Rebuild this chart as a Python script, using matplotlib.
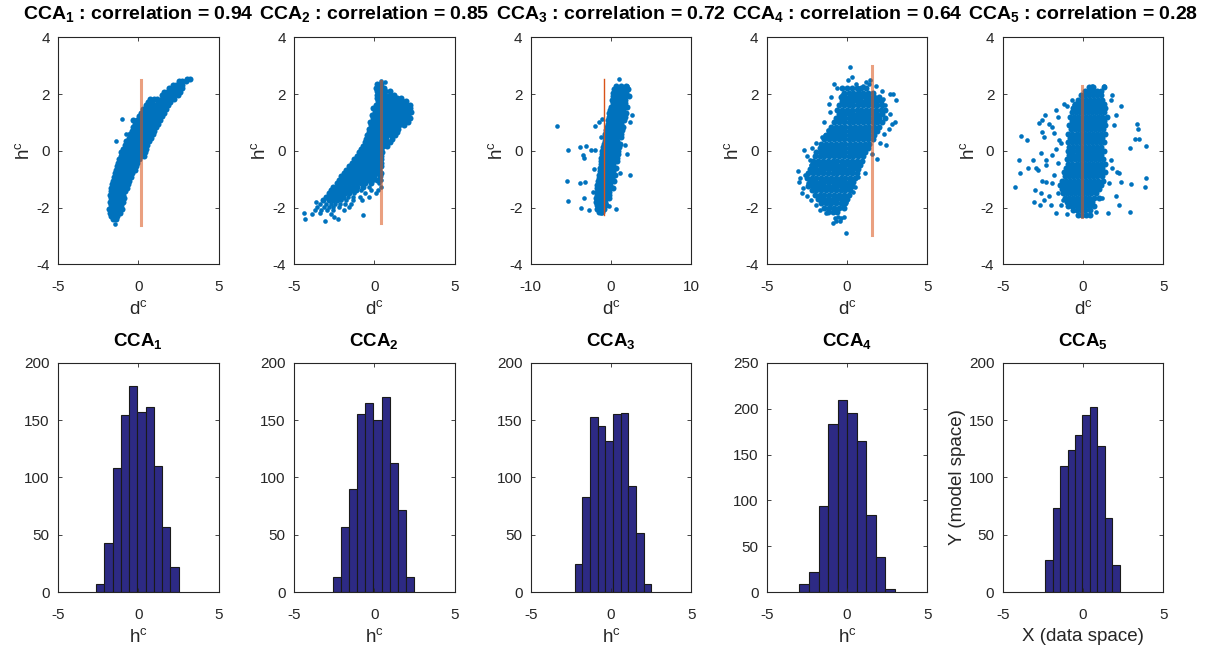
import numpy as np
import matplotlib.pyplot as plt

plt.rcParams['font.family'] = ['Liberation Sans', 'DejaVu Sans']
plt.rcParams['mathtext.default'] = 'regular'
plt.rcParams['axes.unicode_minus'] = False

# ---- data ----
correlations = [0.94, 0.85, 0.72, 0.64, 0.28]
d_ticks = [[-5, 0, 5], [-5, 0, 5], [-10, 0, 10], [-5, 0, 5], [-5, 0, 5]]
line_d = [0.2, 0.445, -0.93, 1.54, -0.07]          # vertical reference line in the scatter panels

# histogram of h^c: (min, max) of the 10 bins and the counts
hist_range = [(-2.63, 2.51), (-2.56, 2.46), (-2.27, 2.52), (-2.96, 2.98), (-2.34, 2.28)]
hist_counts = [
    [7, 43, 108, 154, 180, 157, 161, 110, 57, 22],
    [13, 57, 90, 155, 165, 150, 170, 113, 72, 13],
    [25, 83, 153, 145, 132, 155, 156, 93, 52, 7],
    [9, 22, 94, 183, 209, 195, 165, 84, 38, 4],
    [28, 73, 110, 124, 137, 154, 161, 127, 65, 24],
]
hist_ymax = [200, 200, 200, 250, 200]

# scatter clouds: rows of (h, [d values at that h]) plus loose points (d, h)
cca1_rows = [
    (2.52, [3.05, 3.2]),
    (2.45, [2.55, 2.75, 2.95]),
    (2.33, [2.15, 2.35, 2.55, 2.75]),
    (2.20, [1.9, 2.1, 2.3, 2.5, 2.7]),
    (2.08, [1.6, 1.8, 2.0, 2.2, 2.4, 2.6]),
    (1.95, [1.45, 1.65, 1.85, 2.05, 2.25, 2.45]),
    (1.84, [0.7, 0.95, 1.15, 1.45, 1.65, 1.85, 2.05, 2.25]),
    (1.72, [0.6, 0.85, 1.2, 1.4, 1.6, 1.8, 2.0]),
    (1.60, [0.45, 0.65, 0.85, 1.05, 1.25, 1.45, 1.65, 1.85]),
    (1.47, [0.3, 0.5, 0.7, 0.9, 1.1, 1.3, 1.5, 1.72]),
    (1.34, [0.2, 0.4, 0.6, 0.8, 1.0, 1.2, 1.4, 1.6]),
    (1.21, [0.05, 0.25, 0.45, 0.65, 0.85, 1.05, 1.25, 1.45]),
    (1.09, [-0.3, -0.05, 0.15, 0.35, 0.55, 0.75, 0.95, 1.15, 1.35]),
    (0.96, [-0.2, 0.0, 0.2, 0.4, 0.6, 0.8, 1.0, 1.2]),
    (0.83, [-0.3, -0.1, 0.1, 0.3, 0.5, 0.7, 0.9, 1.1]),
    (0.70, [-0.4, -0.2, 0.0, 0.2, 0.4, 0.6, 0.8, 1.0]),
    (0.58, [-0.5, -0.3, -0.1, 0.1, 0.3, 0.5, 0.7, 0.9]),
    (0.46, [-0.6, -0.4, -0.2, 0.0, 0.2, 0.4, 0.6, 0.8]),
    (0.34, [-0.75, -0.55, -0.35, -0.15, 0.05, 0.25, 0.45, 0.65]),
    (0.21, [-0.85, -0.65, -0.45, -0.25, -0.05, 0.15, 0.35, 0.55]),
    (0.08, [-0.95, -0.75, -0.55, -0.35, -0.15, 0.05, 0.25, 0.48]),
    (-0.05, [-1.05, -0.85, -0.65, -0.45, -0.25, -0.05, 0.15, 0.4]),
    (-0.18, [-1.1, -0.9, -0.7, -0.5, -0.3, -0.1, 0.12, 0.35]),
    (-0.30, [-1.2, -1.0, -0.8, -0.6, -0.4, -0.2, 0.02]),
    (-0.42, [-1.28, -1.08, -0.88, -0.68, -0.48, -0.28, -0.05]),
    (-0.55, [-1.35, -1.15, -0.95, -0.75, -0.55, -0.35, -0.15]),
    (-0.68, [-1.4, -1.2, -1.0, -0.8, -0.6, -0.38, -0.2]),
    (-0.80, [-1.45, -1.25, -1.05, -0.85, -0.65, -0.42]),
    (-0.92, [-1.5, -1.3, -1.1, -0.9, -0.7, -0.48]),
    (-1.05, [-1.58, -1.38, -1.18, -0.98, -0.78, -0.55]),
    (-1.18, [-1.62, -1.42, -1.22, -1.02, -0.82, -0.62]),
    (-1.30, [-1.7, -1.5, -1.3, -1.1, -0.9, -0.72]),
    (-1.42, [-1.68, -1.48, -1.28, -1.08, -0.85]),
    (-1.55, [-1.75, -1.55, -1.35, -1.15, -0.95]),
    (-1.68, [-1.72, -1.52, -1.32, -1.12, -0.9]),
    (-1.80, [-1.78, -1.58, -1.38, -1.18, -0.95]),
    (-1.92, [-1.7, -1.5, -1.3, -1.1]),
    (-2.05, [-1.8, -1.62, -1.42, -1.22, -1.0]),
    (-2.18, [-1.75, -1.55, -1.35, -1.12]),
    (-2.30, [-1.7, -1.5, -1.3]),
    (-2.42, [-1.58, -1.38]),
]
cca1_loose = [(-1.02, 1.12), (-1.36, 0.34), (-0.78, 0.6), (-1.45, -2.58)]

cca2_rows = [
    (2.35, [0.15, 0.4]),
    (2.22, [0.1, 0.35, 0.6]),
    (2.10, [0.15, 0.4, 0.65, 0.95]),
    (1.98, [0.2, 0.45, 0.7, 0.95, 1.2]),
    (1.86, [0.15, 0.4, 0.65, 0.9, 1.15, 1.4, 1.65]),
    (1.74, [0.25, 0.5, 0.75, 1.0, 1.25, 1.5, 1.75, 2.0]),
    (1.62, [0.1, 0.35, 0.55, 0.8, 1.05, 1.3, 1.55, 1.8, 2.05, 2.25]),
    (1.50, [-0.05, 0.2, 0.45, 0.7, 0.95, 1.2, 1.45, 1.7, 1.95, 2.2]),
    (1.38, [0.05, 0.3, 0.55, 0.8, 1.05, 1.3, 1.55, 1.8, 2.05, 2.3]),
    (1.26, [-0.15, 0.1, 0.35, 0.6, 0.85, 1.1, 1.35, 1.6, 1.85, 2.1]),
    (1.14, [-0.1, 0.15, 0.4, 0.65, 0.9, 1.15, 1.4, 1.65, 1.9, 2.25]),
    (1.02, [-0.25, 0.0, 0.25, 0.5, 0.75, 1.0, 1.25, 1.5, 1.8, 2.1]),
    (0.90, [-0.2, 0.05, 0.3, 0.55, 0.8, 1.05, 1.3, 1.55, 1.85]),
    (0.78, [-0.3, -0.05, 0.2, 0.45, 0.7, 0.95, 1.2, 1.5]),
    (0.66, [-0.35, -0.1, 0.15, 0.4, 0.65, 0.9, 1.15, 1.4]),
    (0.54, [-0.45, -0.2, 0.05, 0.3, 0.55, 0.8, 1.05, 1.3]),
    (0.42, [-0.5, -0.25, 0.0, 0.25, 0.5, 0.75, 1.1]),
    (0.30, [-0.6, -0.35, -0.1, 0.15, 0.4, 0.65, 0.95]),
    (0.18, [-0.7, -0.45, -0.2, 0.05, 0.3, 0.55, 0.8]),
    (0.06, [-0.8, -0.55, -0.3, -0.05, 0.2, 0.45]),
    (-0.06, [-0.95, -0.7, -0.45, -0.2, 0.05, 0.3, 0.5]),
    (-0.18, [-1.1, -0.85, -0.6, -0.35, -0.1, 0.15, 0.45]),
    (-0.30, [-1.25, -1.0, -0.75, -0.5, -0.25, 0.0, 0.25, 0.45]),
    (-0.42, [-1.4, -1.15, -0.9, -0.65, -0.4, -0.15, 0.1, 0.4]),
    (-0.54, [-1.55, -1.3, -1.05, -0.8, -0.55, -0.3, -0.05, 0.2, 0.45]),
    (-0.66, [-1.75, -1.5, -1.25, -1.0, -0.75, -0.5, -0.25, 0.0, 0.3]),
    (-0.78, [-1.9, -1.65, -1.4, -1.15, -0.9, -0.65, -0.4, -0.15, 0.15, 0.45]),
    (-0.90, [-2.05, -1.8, -1.55, -1.3, -1.05, -0.8, -0.55, -0.3, 0.0, 0.35]),
    (-1.02, [-2.2, -1.95, -1.7, -1.45, -1.2, -0.95, -0.7, -0.45, -0.15, 0.2]),
    (-1.14, [-2.35, -2.1, -1.85, -1.6, -1.35, -1.1, -0.85, -0.55, -0.2]),
    (-1.26, [-2.55, -2.3, -2.05, -1.8, -1.55, -1.3, -1.05, -0.7]),
    (-1.38, [-2.7, -2.45, -2.2, -1.95, -1.7, -1.45, -1.15]),
    (-1.50, [-2.85, -2.55, -2.3, -2.05, -1.8, -1.55]),
    (-1.62, [-3.0, -2.7, -2.45, -2.2, -1.95]),
    (-1.74, [-3.2, -2.85, -2.6, -2.35]),
]
cca2_loose = [
    (0.45, 2.45), (0.7, 2.42), (0.45, -1.02), (0.3, -1.14), (-0.35, -1.26), (0.4, -1.26),
    (-0.8, -1.38), (-0.2, -1.38), (0.25, -1.38), (-1.25, -1.5), (-0.6, -1.5), (0.1, -1.5),
    (-1.65, -1.62), (-1.3, -1.62), (-0.9, -1.62), (-0.3, -1.62),
    (-2.05, -1.74), (-1.75, -1.74), (-1.35, -1.74), (-0.75, -1.74),
    (-3.4, -1.86), (-3.0, -1.86), (-2.7, -1.86), (-2.45, -1.86), (-2.15, -1.86), (-1.8, -1.86),
    (-1.45, -1.86), (-3.55, -1.98), (-3.15, -1.98), (-2.85, -1.98), (-2.55, -1.98), (-2.2, -1.98),
    (-1.6, -1.98), (-3.7, -2.1), (-3.3, -2.1), (-2.95, -2.1), (-2.55, -2.1), (-1.9, -2.1),
    (-4.35, -2.2), (-3.85, -2.22), (-3.4, -2.2), (-2.7, -2.24), (-0.7, -2.26), (-2.5, -2.32),
    (-4.3, -2.4), (-2.25, -2.4), (-3.05, -2.49), (-3.6, -1.8), (-2.9, -1.6),
]

cca3_rows = [
    (2.28, [0.6, 1.2, 1.9]),
    (2.16, [0.4, 0.8, 1.2, 1.6, 2.1]),
    (2.04, [0.3, 0.7, 1.1, 1.5, 1.9]),
    (1.92, [0.2, 0.6, 1.0, 1.4, 1.8, 2.2]),
    (1.80, [0.1, 0.5, 0.9, 1.3, 1.7]),
    (1.68, [0.2, 0.6, 1.0, 1.4, 1.8]),
    (1.56, [0.0, 0.4, 0.8, 1.2, 1.6, 2.0]),
    (1.44, [-0.1, 0.3, 0.7, 1.1, 1.5]),
    (1.32, [-0.2, 0.2, 0.6, 1.0, 1.4, 1.9]),
    (1.20, [-0.3, 0.1, 0.5, 0.9, 1.3, 1.7]),
    (1.08, [-0.4, 0.0, 0.4, 0.8, 1.2, 1.6]),
    (0.96, [-0.4, 0.0, 0.4, 0.8, 1.2]),
    (0.84, [-0.5, -0.1, 0.3, 0.7, 1.1, 1.5]),
    (0.72, [-0.6, -0.2, 0.2, 0.6, 1.0, 1.4]),
    (0.60, [-0.7, -0.3, 0.1, 0.5, 0.9, 1.3]),
    (0.48, [-0.8, -0.4, 0.0, 0.4, 0.8, 1.2]),
    (0.36, [-0.8, -0.4, 0.0, 0.4, 0.8]),
    (0.24, [-0.9, -0.5, -0.1, 0.3, 0.7, 1.1]),
    (0.12, [-1.0, -0.6, -0.2, 0.2, 0.6, 1.0]),
    (0.00, [-1.1, -0.7, -0.3, 0.1, 0.5, 0.9]),
    (-0.12, [-1.1, -0.7, -0.3, 0.1, 0.5, 0.9]),
    (-0.24, [-1.2, -0.8, -0.4, 0.0, 0.4, 0.8]),
    (-0.36, [-1.3, -0.9, -0.5, -0.1, 0.3, 0.7]),
    (-0.48, [-1.3, -0.9, -0.5, -0.1, 0.3]),
    (-0.60, [-1.4, -1.0, -0.6, -0.2, 0.2, 0.6]),
    (-0.72, [-1.4, -1.0, -0.6, -0.2, 0.2]),
    (-0.84, [-1.5, -1.1, -0.7, -0.3, 0.1, 0.5]),
    (-0.96, [-1.5, -1.1, -0.7, -0.3, 0.1]),
    (-1.08, [-1.6, -1.2, -0.8, -0.4, 0.0, 0.4]),
    (-1.20, [-1.7, -1.3, -0.9, -0.5, -0.1]),
    (-1.32, [-1.7, -1.3, -0.9, -0.5, -0.1, 0.3]),
    (-1.44, [-1.8, -1.4, -1.0, -0.6, -0.2]),
    (-1.56, [-1.8, -1.4, -1.0, -0.6, -0.2]),
    (-1.68, [-1.9, -1.5, -1.1, -0.7, -0.3]),
    (-1.80, [-1.9, -1.5, -1.1, -0.7]),
    (-1.92, [-1.8, -1.4, -1.0, -0.6]),
    (-2.04, [-1.7, -1.3, -0.9]),
    (-2.16, [-1.5, -1.1]),
]
cca3_loose = [
    (-6.69, 0.87), (-5.36, 0.02), (-5.53, -1.05), (-5.36, -1.77), (-3.87, 0.14),
    (-3.17, 0.16), (-3.46, -0.15), (-3.37, -0.27), (-2.55, 0.02), (-2.05, 0.02),
    (-2.13, -0.65), (-3.87, -1.12), (-3.29, -1.09), (-3.37, -1.67), (-3.79, -2.02),
    (-2.71, -2.1), (-2.0, 0.87), (-1.51, 1.0), (-1.1, 1.13), (-1.22, 0.49),
    (-1.1, -0.09), (2.42, -0.85), (2.0, -0.12), (1.1, -0.8), (0.68, -2.06),
    (-0.27, -1.96), (-1.3, -2.2), (-2.22, -1.44), (0.97, 2.54), (2.0, 2.3),
    (2.63, 1.25), (2.34, 1.02), (1.8, 0.2),
]

cca4_rows = [
    (2.20, [-0.3, 0.0, 0.3, 0.6, 0.9, 1.2]),
    (2.05, [-0.2, 0.1, 0.4, 0.7, 1.0, 1.3, 1.6]),
    (1.90, [-0.4, -0.1, 0.2, 0.5, 0.8, 1.1, 1.4, 1.7, 2.0]),
    (1.75, [-0.3, 0.0, 0.3, 0.6, 0.9, 1.2, 1.5, 1.8, 2.1]),
    (1.60, [-0.5, -0.2, 0.1, 0.4, 0.7, 1.0, 1.3, 1.6, 1.9, 2.2]),
    (1.45, [-0.6, -0.3, 0.0, 0.3, 0.6, 0.9, 1.2, 1.5, 1.8, 2.1, 2.4]),
    (1.30, [-0.5, -0.2, 0.1, 0.4, 0.7, 1.0, 1.3, 1.6, 1.9, 2.2]),
    (1.15, [-0.7, -0.4, -0.1, 0.2, 0.5, 0.8, 1.1, 1.4, 1.7, 2.0, 2.35]),
    (1.00, [-0.8, -0.5, -0.2, 0.1, 0.4, 0.7, 1.0, 1.3, 1.6, 1.9, 2.2]),
    (0.85, [-1.0, -0.7, -0.4, -0.1, 0.2, 0.5, 0.8, 1.1, 1.4, 1.7, 2.0]),
    (0.70, [-1.1, -0.8, -0.5, -0.2, 0.1, 0.4, 0.7, 1.0, 1.3, 1.6, 1.9]),
    (0.55, [-1.3, -1.0, -0.7, -0.4, -0.1, 0.2, 0.5, 0.8, 1.1, 1.4, 1.7]),
    (0.40, [-1.4, -1.1, -0.8, -0.5, -0.2, 0.1, 0.4, 0.7, 1.0, 1.3, 1.6]),
    (0.25, [-1.6, -1.3, -1.0, -0.7, -0.4, -0.1, 0.2, 0.5, 0.8, 1.1, 1.4]),
    (0.10, [-1.7, -1.4, -1.1, -0.8, -0.5, -0.2, 0.1, 0.4, 0.7, 1.0, 1.3]),
    (-0.05, [-1.9, -1.6, -1.3, -1.0, -0.7, -0.4, -0.1, 0.2, 0.5, 0.8, 1.1]),
    (-0.20, [-2.0, -1.7, -1.4, -1.1, -0.8, -0.5, -0.2, 0.1, 0.4, 0.7, 1.0]),
    (-0.35, [-2.1, -1.8, -1.5, -1.2, -0.9, -0.6, -0.3, 0.0, 0.3, 0.6, 0.95]),
    (-0.50, [-2.2, -1.9, -1.6, -1.3, -1.0, -0.7, -0.4, -0.1, 0.2, 0.5, 0.8]),
    (-0.65, [-2.3, -2.0, -1.7, -1.4, -1.1, -0.8, -0.5, -0.2, 0.1, 0.4, 0.7]),
    (-0.80, [-2.4, -2.1, -1.8, -1.5, -1.2, -0.9, -0.6, -0.3, 0.0, 0.3, 0.6]),
    (-0.95, [-2.5, -2.2, -1.9, -1.6, -1.3, -1.0, -0.7, -0.4, -0.1, 0.2, 0.5]),
    (-1.10, [-2.3, -2.0, -1.7, -1.4, -1.1, -0.8, -0.5, -0.2, 0.1, 0.4]),
    (-1.25, [-2.4, -2.1, -1.8, -1.5, -1.2, -0.9, -0.6, -0.3, 0.0, 0.3]),
    (-1.40, [-2.2, -1.9, -1.6, -1.3, -1.0, -0.7, -0.4, -0.1, 0.2]),
    (-1.55, [-2.0, -1.7, -1.4, -1.1, -0.8, -0.5, -0.2, 0.1]),
    (-1.70, [-1.8, -1.5, -1.2, -0.9, -0.6, -0.3, 0.0]),
    (-1.85, [-1.6, -1.3, -1.0, -0.7, -0.4, -0.1]),
    (-2.00, [-1.4, -1.1, -0.8, -0.5, -0.2]),
    (-2.15, [-1.2, -0.9, -0.6]),
]
cca4_loose = [
    (0.18, 2.97), (-0.59, 2.21), (0.07, 2.48), (0.59, 2.36), (1.0, 2.3), (1.21, 2.42),
    (1.42, 2.5), (1.36, 2.36), (0.76, 2.13), (-0.28, 1.95), (-1.11, 1.66), (-1.07, 1.37),
    (2.66, 2.01), (2.87, 2.01), (3.07, 1.8), (2.25, 1.84), (2.35, 1.6), (2.66, 1.31),
    (2.97, 1.02), (2.83, 0.94), (2.45, 0.2), (2.04, 0.28), (1.59, -0.12), (1.11, -0.77),
    (0.7, -0.91), (0.49, -1.26), (0.35, -1.44), (-0.03, -1.79), (-0.24, -1.96),
    (-2.68, 0.02), (-3.03, -0.7), (-2.93, -0.97), (-2.97, -1.09), (-2.83, -1.5),
    (-2.41, -1.15), (-2.31, -0.33), (-2.21, -0.5), (-1.9, 0.26), (-1.69, -0.04),
    (-1.58, 0.49), (-1.38, 0.55), (-1.17, 0.73), (-2.52, -1.61), (-2.21, -1.73),
    (-1.9, -1.91), (-1.69, -2.08), (-1.31, -2.2), (-1.07, -1.91), (-0.76, -2.37),
    (-0.55, -2.32), (-0.34, -2.37), (-0.2, -2.34), (-0.69, -2.49), (-0.45, -2.46),
    (-0.86, -2.53), (-0.09, -2.9), (-2.6, -0.85), (-2.75, -1.3), (-2.5, -0.2),
    (-2.2, 0.1), (2.3, 0.6), (2.6, 0.75), (1.9, -0.3), (-1.4, 1.0), (-1.0, 1.9),
    (-0.8, 2.35), (0.3, 2.6), (1.8, 2.3), (2.2, 2.1),
]

cca5_rows = [
    (2.25, [0.35, 0.6, 1.3]),
    (2.10, [0.1, 0.35, 0.6, 0.85, 1.1]),
    (1.95, [-0.1, 0.15, 0.4, 0.65, 0.9, 1.15]),
    (1.80, [-0.3, -0.05, 0.2, 0.45, 0.7, 0.95, 1.2]),
    (1.65, [-0.5, -0.25, 0.0, 0.25, 0.5, 0.75, 1.0, 1.3]),
    (1.50, [-0.6, -0.35, -0.1, 0.15, 0.4, 0.65, 0.9, 1.15, 1.4]),
    (1.35, [-0.7, -0.45, -0.2, 0.05, 0.3, 0.55, 0.8, 1.05, 1.3]),
    (1.20, [-0.8, -0.55, -0.3, -0.05, 0.2, 0.45, 0.7, 0.95, 1.2, 1.5]),
    (1.05, [-0.7, -0.45, -0.2, 0.05, 0.3, 0.55, 0.8, 1.05, 1.3]),
    (0.90, [-0.85, -0.6, -0.35, -0.1, 0.15, 0.4, 0.65, 0.9, 1.15, 1.4]),
    (0.75, [-0.75, -0.5, -0.25, 0.0, 0.25, 0.5, 0.75, 1.0, 1.25]),
    (0.60, [-0.9, -0.65, -0.4, -0.15, 0.1, 0.35, 0.6, 0.85, 1.1, 1.35]),
    (0.45, [-0.8, -0.55, -0.3, -0.05, 0.2, 0.45, 0.7, 0.95, 1.2]),
    (0.30, [-0.95, -0.7, -0.45, -0.2, 0.05, 0.3, 0.55, 0.8, 1.05, 1.3]),
    (0.15, [-0.85, -0.6, -0.35, -0.1, 0.15, 0.4, 0.65, 0.9, 1.15]),
    (0.00, [-0.9, -0.65, -0.4, -0.15, 0.1, 0.35, 0.6, 0.85, 1.1, 1.3]),
    (-0.15, [-0.85, -0.6, -0.35, -0.1, 0.15, 0.4, 0.65, 0.9, 1.15]),
    (-0.30, [-1.0, -0.75, -0.5, -0.25, 0.0, 0.25, 0.5, 0.75, 1.0, 1.25]),
    (-0.45, [-0.9, -0.65, -0.4, -0.15, 0.1, 0.35, 0.6, 0.85, 1.1, 1.4]),
    (-0.60, [-1.05, -0.8, -0.55, -0.3, -0.05, 0.2, 0.45, 0.7, 0.95, 1.2]),
    (-0.75, [-1.2, -0.95, -0.7, -0.45, -0.2, 0.05, 0.3, 0.55, 0.8, 1.05, 1.35]),
    (-0.90, [-1.1, -0.85, -0.6, -0.35, -0.1, 0.15, 0.4, 0.65, 0.9, 1.2]),
    (-1.05, [-1.3, -1.05, -0.8, -0.55, -0.3, -0.05, 0.2, 0.45, 0.7, 0.95, 1.25]),
    (-1.20, [-1.4, -1.15, -0.9, -0.65, -0.4, -0.15, 0.1, 0.35, 0.6, 0.85, 1.1]),
    (-1.35, [-1.3, -1.05, -0.8, -0.55, -0.3, -0.05, 0.2, 0.45, 0.7, 1.0]),
    (-1.50, [-1.25, -1.0, -0.75, -0.5, -0.25, 0.0, 0.25, 0.5, 0.8]),
    (-1.65, [-1.1, -0.85, -0.6, -0.35, -0.1, 0.15, 0.4, 0.7, 1.0]),
    (-1.80, [-1.0, -0.75, -0.5, -0.25, 0.0, 0.25, 0.55]),
    (-1.95, [-0.9, -0.65, -0.4, -0.15, 0.1, 0.35, 0.7]),
    (-2.10, [-0.6, -0.35, -0.1, 0.15, 0.45]),
    (-2.25, [-0.3, -0.05, 0.2, 0.45]),
]
cca5_loose = [
    (-3.86, 0.51), (-3.51, 0.37), (-4.0, -0.33), (-4.23, -1.26), (-3.9, -0.77),
    (-3.45, -0.6), (-3.14, -0.33), (-2.93, -0.62), (-2.83, -0.68), (-2.97, -1.37),
    (-3.03, -1.81), (-2.76, 0.98), (-2.52, 1.1), (-2.35, 1.25), (-2.56, 0.67),
    (-2.41, 0.49), (-2.62, -0.09), (-2.31, -0.33), (-2.31, -0.5), (-2.52, -1.05),
    (-2.31, -1.09), (-2.62, -1.5), (-2.68, -1.91), (-2.41, -1.73), (-1.69, -2.2),
    (-1.0, -2.22), (-1.96, -1.91), (3.39, 0.94), (3.45, 0.78), (3.24, 0.43),
    (3.49, 0.43), (3.94, 0.16), (2.93, 0.11), (3.94, -0.97), (3.86, -1.26),
    (2.97, -1.18), (2.93, -2.16), (2.25, -1.91), (2.04, -1.59), (2.35, -1.11),
    (2.14, -0.74), (2.25, -0.8), (2.35, 1.57), (2.04, 1.25), (1.93, 0.9),
    (1.83, 1.95), (1.73, 1.78), (1.59, -2.18), (0.8, -2.16), (1.21, -1.67),
    (1.63, -1.15), (1.83, -0.62), (1.73, -0.33), (-1.17, 1.66), (-1.0, 1.57),
    (-0.65, 1.78), (-0.55, 1.6), (-1.69, 1.43), (-1.58, 1.19), (-2.1, 0.96),
    (-1.9, 0.84), (-1.79, 0.61), (-1.48, 0.37), (-1.38, 0.26), (-1.69, 0.08),
    (-1.9, -0.15), (-1.58, -0.44), (-1.79, -0.85), (-1.9, -1.15), (-2.1, -1.61),
    (-1.58, -1.5), (-1.27, -1.73), (-1.38, -1.91), (1.31, 2.3), (0.59, 2.27),
]

all_rows = [cca1_rows, cca2_rows, cca3_rows, cca4_rows, cca5_rows]
all_loose = [cca1_loose, cca2_loose, cca3_loose, cca4_loose, cca5_loose]

# ---- styling ----
blue = '#0072BD'
orange = '#D95319'
bar_face = '#2D2A84'
ink = '#262626'
line_width = [2.2, 2.2, 1.0, 2.2, 2.2]
line_alpha = [0.55, 0.55, 1.0, 0.55, 0.55]

lefts = [0.0479, 0.2426, 0.4379, 0.6326, 0.8273]
ax_w = 0.1324


def style_axes(ax):
    ax.tick_params(direction='in', length=3, width=0.6, top=True, right=True,
                   colors=ink, labelsize=11, labelcolor=ink)
    ax.tick_params(axis='x', pad=11)
    ax.tick_params(axis='y', pad=6)
    for sp in ax.spines.values():
        sp.set_color(ink)
        sp.set_linewidth(0.8)


fig = plt.figure(figsize=(12.12, 6.53), dpi=100)

for i in range(5):
    # scatter of h^c against d^c
    ax = fig.add_axes([lefts[i], 0.5953, ax_w, 0.3476])
    d_core = [x for h, xs in all_rows[i] for x in xs]
    h_core = [hv for hv, xs in all_rows[i] for x in xs]
    ax.scatter(d_core, h_core, s=19, color=blue, linewidths=0)
    ax.scatter([p[0] for p in all_loose[i]], [p[1] for p in all_loose[i]],
               s=11, color=blue, linewidths=0)
    lo, hi = hist_range[i]
    ax.plot([line_d[i], line_d[i]], [lo, hi], color=orange, lw=line_width[i], alpha=line_alpha[i])
    ax.set_xlim(d_ticks[i][0], d_ticks[i][-1])
    ax.set_ylim(-4, 4)
    ax.set_xticks(d_ticks[i])
    ax.set_yticks([-4, -2, 0, 2, 4])
    ax.set_xlabel('d$^{c}$', fontsize=13.5, color=ink, labelpad=5)
    ax.set_ylabel('h$^{c}$', fontsize=13.5, color=ink, labelpad=2)
    ax.set_title('CCA$_{%d}$ : correlation = %.2f' % (i + 1, correlations[i]),
                 fontsize=14, fontweight='bold', pad=13)
    style_axes(ax)

    # histogram of h^c
    ax2 = fig.add_axes([lefts[i], 0.093, ax_w, 0.3516])
    edges = np.linspace(lo, hi, len(hist_counts[i]) + 1)
    ax2.bar(edges[:-1], hist_counts[i], width=np.diff(edges), align='edge',
            color=bar_face, edgecolor='#1a1a1a', linewidth=0.8)
    ax2.set_xlim(-5, 5)
    ax2.set_ylim(0, hist_ymax[i])
    ax2.set_xticks([-5, 0, 5])
    ax2.set_yticks(np.arange(0, hist_ymax[i] + 1, 50))
    ax2.set_title('CCA$_{%d}$' % (i + 1), fontsize=13.5, fontweight='bold', pad=12)
    if i < 4:
        ax2.set_xlabel('h$^{c}$', fontsize=13.5, color=ink, labelpad=5)
    else:
        ax2.set_xlabel('X (data space)', fontsize=13.5, color=ink, labelpad=5)
        ax2.set_ylabel('Y (model space)', fontsize=13.5, color=ink, labelpad=2)
    style_axes(ax2)

fig.savefig('out.png', dpi=100)
